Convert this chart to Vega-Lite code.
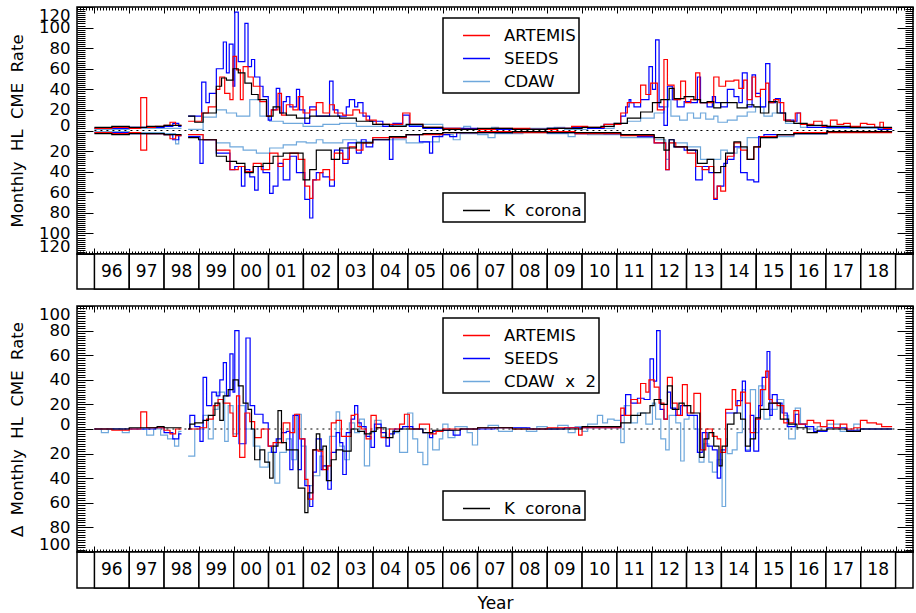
{
"$schema":"https://vega.github.io/schema/vega-lite/v6.json",
"padding":{"left":8,"top":5,"right":0,"bottom":0},
"config":{
 "font":"DejaVu Sans",
 "view":{"stroke":"black","strokeWidth":1.5},
 "axis":{"domain":false,"grid":false,"tickColor":"black","tickWidth":1,"labelColor":"black","titleColor":"black","labelFont":"DejaVu Sans","titleFont":"DejaVu Sans","titleFontWeight":"normal","labelFontSize":16.5,"titleFontSize":16.5,"labelOverlap":false},
 "legend":{"labelFont":"DejaVu Sans","labelFontSize":16.5,"labelColor":"black","symbolType":"stroke","symbolSize":729,"symbolStrokeWidth":1.5,"rowPadding":-6,"padding":3,"strokeColor":"black","strokeWidth":1.5,"fillColor":"white","symbolOffset":16,"labelOffset":13,"cornerRadius":0}
},
"datasets":{
"years":[{"label":"96"},{"label":"97"},{"label":"98"},{"label":"99"},{"label":"00"},{"label":"01"},{"label":"02"},{"label":"03"},{"label":"04"},{"label":"05"},{"label":"06"},{"label":"07"},{"label":"08"},{"label":"09"},{"label":"10"},{"label":"11"},{"label":"12"},{"label":"13"},{"label":"14"},{"label":"15"},{"label":"16"},{"label":"17"},{"label":"18"}],
"cme":[
{"p":"N","src":"CDAW","t":1996.0,"v":1,"g":1},{"p":"N","src":"CDAW","t":1997.0,"v":2,"g":1},{"p":"N","src":"CDAW","t":1998.0,"v":2,"g":1},{"p":"N","src":"CDAW","t":1998.5,"v":2,"g":1},
{"p":"N","src":"CDAW","t":1998.69,"v":1},{"p":"N","src":"CDAW","t":1999.12,"v":13},{"p":"N","src":"CDAW","t":1999.5,"v":20},{"p":"N","src":"CDAW","t":1999.79,"v":17},{"p":"N","src":"CDAW","t":2000.08,"v":14},{"p":"N","src":"CDAW","t":2000.46,"v":30},{"p":"N","src":"CDAW","t":2000.75,"v":14},{"p":"N","src":"CDAW","t":2001.03,"v":9},{"p":"N","src":"CDAW","t":2001.42,"v":7},{"p":"N","src":"CDAW","t":2001.99,"v":4},{"p":"N","src":"CDAW","t":2002.56,"v":6},{"p":"N","src":"CDAW","t":2003.04,"v":7},{"p":"N","src":"CDAW","t":2003.52,"v":4},{"p":"N","src":"CDAW","t":2004.47,"v":5},{"p":"N","src":"CDAW","t":2005.43,"v":6},{"p":"N","src":"CDAW","t":2006.0,"v":2},{"p":"N","src":"CDAW","t":2006.6,"v":4},{"p":"N","src":"CDAW","t":2006.8,"v":1},{"p":"N","src":"CDAW","t":2007.4,"v":3},{"p":"N","src":"CDAW","t":2007.6,"v":1},{"p":"N","src":"CDAW","t":2008.5,"v":2},{"p":"N","src":"CDAW","t":2009.2,"v":3},{"p":"N","src":"CDAW","t":2009.5,"v":1},{"p":"N","src":"CDAW","t":2010.16,"v":2},{"p":"N","src":"CDAW","t":2010.92,"v":7},{"p":"N","src":"CDAW","t":2011.3,"v":9},{"p":"N","src":"CDAW","t":2011.68,"v":12},{"p":"N","src":"CDAW","t":2012.07,"v":17},{"p":"N","src":"CDAW","t":2012.35,"v":23},{"p":"N","src":"CDAW","t":2012.47,"v":30},{"p":"N","src":"CDAW","t":2012.55,"v":14},{"p":"N","src":"CDAW","t":2012.8,"v":10},{"p":"N","src":"CDAW","t":2013.02,"v":17},{"p":"N","src":"CDAW","t":2013.2,"v":12},{"p":"N","src":"CDAW","t":2013.4,"v":17},{"p":"N","src":"CDAW","t":2013.55,"v":11},{"p":"N","src":"CDAW","t":2013.78,"v":14},{"p":"N","src":"CDAW","t":2013.9,"v":8},{"p":"N","src":"CDAW","t":2014.17,"v":10},{"p":"N","src":"CDAW","t":2014.45,"v":14},{"p":"N","src":"CDAW","t":2014.74,"v":18},{"p":"N","src":"CDAW","t":2014.98,"v":23},{"p":"N","src":"CDAW","t":2015.22,"v":14},{"p":"N","src":"CDAW","t":2015.46,"v":17},{"p":"N","src":"CDAW","t":2015.84,"v":7},{"p":"N","src":"CDAW","t":2016.27,"v":3},{"p":"N","src":"CDAW","t":2017.03,"v":2},{"p":"N","src":"CDAW","t":2018.9,"v":2},
{"p":"N","src":"SEEDS","t":1996.0,"v":2,"g":1},{"p":"N","src":"SEEDS","t":1996.5,"v":2,"g":1},{"p":"N","src":"SEEDS","t":1997.0,"v":3,"g":1},{"p":"N","src":"SEEDS","t":1997.5,"v":3,"g":1},{"p":"N","src":"SEEDS","t":1998.0,"v":4,"g":1},{"p":"N","src":"SEEDS","t":1998.25,"v":7,"g":1},{"p":"N","src":"SEEDS","t":1998.42,"v":4,"g":1},{"p":"N","src":"SEEDS","t":1998.5,"v":4,"g":1},
{"p":"N","src":"SEEDS","t":1998.69,"v":14},{"p":"N","src":"SEEDS","t":1999.08,"v":47},{"p":"N","src":"SEEDS","t":1999.2,"v":27},{"p":"N","src":"SEEDS","t":1999.3,"v":36},{"p":"N","src":"SEEDS","t":1999.5,"v":60},{"p":"N","src":"SEEDS","t":1999.7,"v":86},{"p":"N","src":"SEEDS","t":1999.79,"v":56},{"p":"N","src":"SEEDS","t":1999.87,"v":84},{"p":"N","src":"SEEDS","t":1999.98,"v":43},{"p":"N","src":"SEEDS","t":2000.03,"v":115},{"p":"N","src":"SEEDS","t":2000.13,"v":67},{"p":"N","src":"SEEDS","t":2000.32,"v":104},{"p":"N","src":"SEEDS","t":2000.41,"v":62},{"p":"N","src":"SEEDS","t":2000.51,"v":69},{"p":"N","src":"SEEDS","t":2000.6,"v":52},{"p":"N","src":"SEEDS","t":2000.75,"v":43},{"p":"N","src":"SEEDS","t":2000.84,"v":33},{"p":"N","src":"SEEDS","t":2000.99,"v":10},{"p":"N","src":"SEEDS","t":2001.08,"v":20},{"p":"N","src":"SEEDS","t":2001.22,"v":41},{"p":"N","src":"SEEDS","t":2001.32,"v":17},{"p":"N","src":"SEEDS","t":2001.42,"v":28},{"p":"N","src":"SEEDS","t":2001.51,"v":33},{"p":"N","src":"SEEDS","t":2001.61,"v":23},{"p":"N","src":"SEEDS","t":2001.8,"v":40},{"p":"N","src":"SEEDS","t":2001.89,"v":20},{"p":"N","src":"SEEDS","t":2002.04,"v":7},{"p":"N","src":"SEEDS","t":2002.18,"v":23},{"p":"N","src":"SEEDS","t":2002.37,"v":14},{"p":"N","src":"SEEDS","t":2002.75,"v":48},{"p":"N","src":"SEEDS","t":2002.85,"v":20},{"p":"N","src":"SEEDS","t":2002.99,"v":14},{"p":"N","src":"SEEDS","t":2003.23,"v":23},{"p":"N","src":"SEEDS","t":2003.32,"v":30},{"p":"N","src":"SEEDS","t":2003.47,"v":23},{"p":"N","src":"SEEDS","t":2003.56,"v":27},{"p":"N","src":"SEEDS","t":2003.71,"v":14},{"p":"N","src":"SEEDS","t":2003.9,"v":9},{"p":"N","src":"SEEDS","t":2004.28,"v":4},{"p":"N","src":"SEEDS","t":2004.57,"v":7},{"p":"N","src":"SEEDS","t":2004.85,"v":15},{"p":"N","src":"SEEDS","t":2005.04,"v":4},{"p":"N","src":"SEEDS","t":2005.43,"v":2},{"p":"N","src":"SEEDS","t":2006.0,"v":2},{"p":"N","src":"SEEDS","t":2007.0,"v":1},{"p":"N","src":"SEEDS","t":2009.0,"v":2},{"p":"N","src":"SEEDS","t":2009.7,"v":3},{"p":"N","src":"SEEDS","t":2010.16,"v":2},{"p":"N","src":"SEEDS","t":2010.63,"v":6},{"p":"N","src":"SEEDS","t":2011.11,"v":14},{"p":"N","src":"SEEDS","t":2011.25,"v":23},{"p":"N","src":"SEEDS","t":2011.35,"v":30},{"p":"N","src":"SEEDS","t":2011.4,"v":27},{"p":"N","src":"SEEDS","t":2011.49,"v":23},{"p":"N","src":"SEEDS","t":2011.68,"v":30},{"p":"N","src":"SEEDS","t":2011.92,"v":62},{"p":"N","src":"SEEDS","t":2012.02,"v":40},{"p":"N","src":"SEEDS","t":2012.11,"v":88},{"p":"N","src":"SEEDS","t":2012.21,"v":23},{"p":"N","src":"SEEDS","t":2012.35,"v":5},{"p":"N","src":"SEEDS","t":2012.45,"v":43},{"p":"N","src":"SEEDS","t":2012.59,"v":30},{"p":"N","src":"SEEDS","t":2012.73,"v":23},{"p":"N","src":"SEEDS","t":2012.93,"v":28},{"p":"N","src":"SEEDS","t":2013.12,"v":27},{"p":"N","src":"SEEDS","t":2013.31,"v":52},{"p":"N","src":"SEEDS","t":2013.4,"v":27},{"p":"N","src":"SEEDS","t":2013.59,"v":23},{"p":"N","src":"SEEDS","t":2013.74,"v":33},{"p":"N","src":"SEEDS","t":2013.83,"v":27},{"p":"N","src":"SEEDS","t":2013.98,"v":23},{"p":"N","src":"SEEDS","t":2014.17,"v":40},{"p":"N","src":"SEEDS","t":2014.36,"v":33},{"p":"N","src":"SEEDS","t":2014.5,"v":27},{"p":"N","src":"SEEDS","t":2014.6,"v":56},{"p":"N","src":"SEEDS","t":2014.74,"v":23},{"p":"N","src":"SEEDS","t":2014.88,"v":54},{"p":"N","src":"SEEDS","t":2014.98,"v":36},{"p":"N","src":"SEEDS","t":2015.12,"v":23},{"p":"N","src":"SEEDS","t":2015.27,"v":65},{"p":"N","src":"SEEDS","t":2015.39,"v":27},{"p":"N","src":"SEEDS","t":2015.55,"v":31},{"p":"N","src":"SEEDS","t":2015.69,"v":17},{"p":"N","src":"SEEDS","t":2015.84,"v":10},{"p":"N","src":"SEEDS","t":2016.08,"v":9},{"p":"N","src":"SEEDS","t":2016.17,"v":17},{"p":"N","src":"SEEDS","t":2016.27,"v":6},{"p":"N","src":"SEEDS","t":2016.46,"v":3},{"p":"N","src":"SEEDS","t":2018.5,"v":1},{"p":"N","src":"SEEDS","t":2018.9,"v":1},
{"p":"N","src":"ARTEMIS","t":1996.0,"v":2,"g":1},{"p":"N","src":"ARTEMIS","t":1996.5,"v":3,"g":1},{"p":"N","src":"ARTEMIS","t":1997.0,"v":2,"g":1},{"p":"N","src":"ARTEMIS","t":1997.33,"v":32,"g":1},{"p":"N","src":"ARTEMIS","t":1997.5,"v":3,"g":1},{"p":"N","src":"ARTEMIS","t":1997.75,"v":4,"g":1},{"p":"N","src":"ARTEMIS","t":1998.0,"v":5,"g":1},{"p":"N","src":"ARTEMIS","t":1998.17,"v":8,"g":1},{"p":"N","src":"ARTEMIS","t":1998.33,"v":5,"g":1},{"p":"N","src":"ARTEMIS","t":1998.5,"v":5,"g":1},
{"p":"N","src":"ARTEMIS","t":1998.69,"v":9},{"p":"N","src":"ARTEMIS","t":1999.08,"v":17},{"p":"N","src":"ARTEMIS","t":1999.27,"v":23},{"p":"N","src":"ARTEMIS","t":1999.5,"v":40},{"p":"N","src":"ARTEMIS","t":1999.6,"v":52},{"p":"N","src":"ARTEMIS","t":1999.74,"v":36},{"p":"N","src":"ARTEMIS","t":1999.89,"v":30},{"p":"N","src":"ARTEMIS","t":1999.98,"v":72},{"p":"N","src":"ARTEMIS","t":2000.08,"v":59},{"p":"N","src":"ARTEMIS","t":2000.19,"v":30},{"p":"N","src":"ARTEMIS","t":2000.27,"v":62},{"p":"N","src":"ARTEMIS","t":2000.41,"v":52},{"p":"N","src":"ARTEMIS","t":2000.56,"v":43},{"p":"N","src":"ARTEMIS","t":2000.75,"v":28},{"p":"N","src":"ARTEMIS","t":2000.94,"v":14},{"p":"N","src":"ARTEMIS","t":2001.08,"v":20},{"p":"N","src":"ARTEMIS","t":2001.27,"v":36},{"p":"N","src":"ARTEMIS","t":2001.37,"v":15},{"p":"N","src":"ARTEMIS","t":2001.51,"v":25},{"p":"N","src":"ARTEMIS","t":2001.7,"v":20},{"p":"N","src":"ARTEMIS","t":2001.85,"v":33},{"p":"N","src":"ARTEMIS","t":2001.99,"v":17},{"p":"N","src":"ARTEMIS","t":2002.18,"v":20},{"p":"N","src":"ARTEMIS","t":2002.37,"v":27},{"p":"N","src":"ARTEMIS","t":2002.56,"v":17},{"p":"N","src":"ARTEMIS","t":2002.75,"v":25},{"p":"N","src":"ARTEMIS","t":2002.89,"v":17},{"p":"N","src":"ARTEMIS","t":2003.13,"v":15},{"p":"N","src":"ARTEMIS","t":2003.42,"v":20},{"p":"N","src":"ARTEMIS","t":2003.61,"v":17},{"p":"N","src":"ARTEMIS","t":2003.8,"v":10},{"p":"N","src":"ARTEMIS","t":2004.09,"v":6},{"p":"N","src":"ARTEMIS","t":2004.85,"v":17},{"p":"N","src":"ARTEMIS","t":2005.06,"v":6},{"p":"N","src":"ARTEMIS","t":2005.43,"v":3},{"p":"N","src":"ARTEMIS","t":2006.0,"v":2},{"p":"N","src":"ARTEMIS","t":2006.5,"v":1},{"p":"N","src":"ARTEMIS","t":2007.5,"v":2},{"p":"N","src":"ARTEMIS","t":2008.5,"v":1},{"p":"N","src":"ARTEMIS","t":2009.3,"v":2},{"p":"N","src":"ARTEMIS","t":2009.7,"v":4},{"p":"N","src":"ARTEMIS","t":2010.16,"v":3},{"p":"N","src":"ARTEMIS","t":2010.63,"v":6},{"p":"N","src":"ARTEMIS","t":2011.11,"v":17},{"p":"N","src":"ARTEMIS","t":2011.3,"v":27},{"p":"N","src":"ARTEMIS","t":2011.68,"v":44},{"p":"N","src":"ARTEMIS","t":2011.83,"v":35},{"p":"N","src":"ARTEMIS","t":2011.97,"v":46},{"p":"N","src":"ARTEMIS","t":2012.16,"v":20},{"p":"N","src":"ARTEMIS","t":2012.35,"v":69},{"p":"N","src":"ARTEMIS","t":2012.45,"v":44},{"p":"N","src":"ARTEMIS","t":2012.64,"v":30},{"p":"N","src":"ARTEMIS","t":2012.83,"v":48},{"p":"N","src":"ARTEMIS","t":2012.97,"v":27},{"p":"N","src":"ARTEMIS","t":2013.12,"v":30},{"p":"N","src":"ARTEMIS","t":2013.26,"v":56},{"p":"N","src":"ARTEMIS","t":2013.38,"v":27},{"p":"N","src":"ARTEMIS","t":2013.78,"v":52},{"p":"N","src":"ARTEMIS","t":2013.93,"v":43},{"p":"N","src":"ARTEMIS","t":2014.12,"v":48},{"p":"N","src":"ARTEMIS","t":2014.36,"v":49},{"p":"N","src":"ARTEMIS","t":2014.5,"v":41},{"p":"N","src":"ARTEMIS","t":2014.64,"v":49},{"p":"N","src":"ARTEMIS","t":2014.74,"v":30},{"p":"N","src":"ARTEMIS","t":2014.88,"v":52},{"p":"N","src":"ARTEMIS","t":2014.98,"v":33},{"p":"N","src":"ARTEMIS","t":2015.12,"v":40},{"p":"N","src":"ARTEMIS","t":2015.27,"v":46},{"p":"N","src":"ARTEMIS","t":2015.36,"v":27},{"p":"N","src":"ARTEMIS","t":2015.5,"v":30},{"p":"N","src":"ARTEMIS","t":2015.65,"v":27},{"p":"N","src":"ARTEMIS","t":2015.79,"v":10},{"p":"N","src":"ARTEMIS","t":2015.98,"v":9},{"p":"N","src":"ARTEMIS","t":2016.12,"v":17},{"p":"N","src":"ARTEMIS","t":2016.27,"v":6},{"p":"N","src":"ARTEMIS","t":2016.65,"v":9},{"p":"N","src":"ARTEMIS","t":2016.89,"v":4},{"p":"N","src":"ARTEMIS","t":2017.13,"v":10},{"p":"N","src":"ARTEMIS","t":2017.32,"v":6},{"p":"N","src":"ARTEMIS","t":2017.51,"v":7},{"p":"N","src":"ARTEMIS","t":2017.7,"v":4},{"p":"N","src":"ARTEMIS","t":2017.99,"v":7},{"p":"N","src":"ARTEMIS","t":2018.18,"v":6},{"p":"N","src":"ARTEMIS","t":2018.4,"v":3},{"p":"N","src":"ARTEMIS","t":2018.55,"v":8},{"p":"N","src":"ARTEMIS","t":2018.65,"v":2},{"p":"N","src":"ARTEMIS","t":2018.9,"v":2},
{"p":"N","src":"K corona","t":1996.0,"v":3,"g":1},{"p":"N","src":"K corona","t":1996.5,"v":4,"g":1},{"p":"N","src":"K corona","t":1997.0,"v":3,"g":1},{"p":"N","src":"K corona","t":1997.5,"v":4,"g":1},{"p":"N","src":"K corona","t":1998.0,"v":5,"g":1},{"p":"N","src":"K corona","t":1998.5,"v":5,"g":1},
{"p":"N","src":"K corona","t":1998.69,"v":14},{"p":"N","src":"K corona","t":1998.88,"v":8},{"p":"N","src":"K corona","t":1999.12,"v":17},{"p":"N","src":"K corona","t":1999.5,"v":43},{"p":"N","src":"K corona","t":1999.65,"v":51},{"p":"N","src":"K corona","t":1999.79,"v":49},{"p":"N","src":"K corona","t":1999.98,"v":60},{"p":"N","src":"K corona","t":2000.13,"v":56},{"p":"N","src":"K corona","t":2000.32,"v":46},{"p":"N","src":"K corona","t":2000.51,"v":35},{"p":"N","src":"K corona","t":2000.7,"v":30},{"p":"N","src":"K corona","t":2000.94,"v":14},{"p":"N","src":"K corona","t":2001.13,"v":23},{"p":"N","src":"K corona","t":2001.32,"v":17},{"p":"N","src":"K corona","t":2001.51,"v":15},{"p":"N","src":"K corona","t":2001.8,"v":12},{"p":"N","src":"K corona","t":2002.18,"v":14},{"p":"N","src":"K corona","t":2003.04,"v":12},{"p":"N","src":"K corona","t":2003.52,"v":9},{"p":"N","src":"K corona","t":2003.99,"v":6},{"p":"N","src":"K corona","t":2004.47,"v":4},{"p":"N","src":"K corona","t":2004.95,"v":6},{"p":"N","src":"K corona","t":2005.43,"v":3},{"p":"N","src":"K corona","t":2006.0,"v":1},{"p":"N","src":"K corona","t":2007.0,"v":2},{"p":"N","src":"K corona","t":2008.0,"v":1},{"p":"N","src":"K corona","t":2009.0,"v":2},{"p":"N","src":"K corona","t":2010.0,"v":3},{"p":"N","src":"K corona","t":2010.54,"v":4},{"p":"N","src":"K corona","t":2010.92,"v":7},{"p":"N","src":"K corona","t":2011.3,"v":12},{"p":"N","src":"K corona","t":2011.68,"v":18},{"p":"N","src":"K corona","t":2012.02,"v":27},{"p":"N","src":"K corona","t":2012.26,"v":30},{"p":"N","src":"K corona","t":2012.5,"v":41},{"p":"N","src":"K corona","t":2012.64,"v":31},{"p":"N","src":"K corona","t":2012.93,"v":33},{"p":"N","src":"K corona","t":2013.21,"v":30},{"p":"N","src":"K corona","t":2013.4,"v":27},{"p":"N","src":"K corona","t":2013.59,"v":28},{"p":"N","src":"K corona","t":2013.78,"v":22},{"p":"N","src":"K corona","t":2013.98,"v":27},{"p":"N","src":"K corona","t":2014.45,"v":22},{"p":"N","src":"K corona","t":2014.74,"v":25},{"p":"N","src":"K corona","t":2014.93,"v":23},{"p":"N","src":"K corona","t":2015.12,"v":17},{"p":"N","src":"K corona","t":2015.36,"v":28},{"p":"N","src":"K corona","t":2015.6,"v":17},{"p":"N","src":"K corona","t":2015.84,"v":9},{"p":"N","src":"K corona","t":2016.08,"v":7},{"p":"N","src":"K corona","t":2016.46,"v":5},{"p":"N","src":"K corona","t":2017.03,"v":4},{"p":"N","src":"K corona","t":2017.7,"v":3},{"p":"N","src":"K corona","t":2018.9,"v":3},
{"p":"S","src":"CDAW","t":1996.0,"v":-1,"g":1},{"p":"S","src":"CDAW","t":1997.0,"v":-2,"g":1},{"p":"S","src":"CDAW","t":1998.0,"v":-3,"g":1},{"p":"S","src":"CDAW","t":1998.33,"v":-13,"g":1},{"p":"S","src":"CDAW","t":1998.42,"v":-4,"g":1},{"p":"S","src":"CDAW","t":1998.5,"v":-4,"g":1},
{"p":"S","src":"CDAW","t":1998.69,"v":-4},{"p":"S","src":"CDAW","t":1999.12,"v":-9},{"p":"S","src":"CDAW","t":1999.5,"v":-12},{"p":"S","src":"CDAW","t":1999.89,"v":-16},{"p":"S","src":"CDAW","t":2000.27,"v":-19},{"p":"S","src":"CDAW","t":2000.65,"v":-22},{"p":"S","src":"CDAW","t":2001.03,"v":-17},{"p":"S","src":"CDAW","t":2001.42,"v":-14},{"p":"S","src":"CDAW","t":2001.8,"v":-11},{"p":"S","src":"CDAW","t":2002.08,"v":-12},{"p":"S","src":"CDAW","t":2002.37,"v":-9},{"p":"S","src":"CDAW","t":2002.56,"v":-12},{"p":"S","src":"CDAW","t":2003.13,"v":-9},{"p":"S","src":"CDAW","t":2003.52,"v":-11},{"p":"S","src":"CDAW","t":2003.99,"v":-7},{"p":"S","src":"CDAW","t":2004.47,"v":-9},{"p":"S","src":"CDAW","t":2004.95,"v":-12},{"p":"S","src":"CDAW","t":2005.43,"v":-11},{"p":"S","src":"CDAW","t":2005.9,"v":-4},{"p":"S","src":"CDAW","t":2006.3,"v":-9},{"p":"S","src":"CDAW","t":2006.5,"v":-3},{"p":"S","src":"CDAW","t":2007.0,"v":-4},{"p":"S","src":"CDAW","t":2007.3,"v":-7},{"p":"S","src":"CDAW","t":2007.5,"v":-3},{"p":"S","src":"CDAW","t":2008.3,"v":-2},{"p":"S","src":"CDAW","t":2009.0,"v":-3},{"p":"S","src":"CDAW","t":2009.6,"v":-6},{"p":"S","src":"CDAW","t":2009.8,"v":-3},{"p":"S","src":"CDAW","t":2010.16,"v":-4},{"p":"S","src":"CDAW","t":2011.11,"v":-7},{"p":"S","src":"CDAW","t":2012.07,"v":-9},{"p":"S","src":"CDAW","t":2012.4,"v":-28},{"p":"S","src":"CDAW","t":2012.5,"v":-12},{"p":"S","src":"CDAW","t":2013.02,"v":-16},{"p":"S","src":"CDAW","t":2013.4,"v":-28},{"p":"S","src":"CDAW","t":2013.98,"v":-19},{"p":"S","src":"CDAW","t":2014.17,"v":-22},{"p":"S","src":"CDAW","t":2014.45,"v":-17},{"p":"S","src":"CDAW","t":2014.74,"v":-7},{"p":"S","src":"CDAW","t":2015.6,"v":-6},{"p":"S","src":"CDAW","t":2016.08,"v":-3},{"p":"S","src":"CDAW","t":2017.03,"v":-1},{"p":"S","src":"CDAW","t":2018.9,"v":-1},
{"p":"S","src":"SEEDS","t":1996.0,"v":-2,"g":1},{"p":"S","src":"SEEDS","t":1997.0,"v":-3,"g":1},{"p":"S","src":"SEEDS","t":1998.0,"v":-4,"g":1},{"p":"S","src":"SEEDS","t":1998.25,"v":-9,"g":1},{"p":"S","src":"SEEDS","t":1998.42,"v":-5,"g":1},{"p":"S","src":"SEEDS","t":1998.5,"v":-5,"g":1},
{"p":"S","src":"SEEDS","t":1998.69,"v":-6},{"p":"S","src":"SEEDS","t":1999.03,"v":-32},{"p":"S","src":"SEEDS","t":1999.12,"v":-9},{"p":"S","src":"SEEDS","t":1999.5,"v":-22},{"p":"S","src":"SEEDS","t":1999.89,"v":-38},{"p":"S","src":"SEEDS","t":2000.03,"v":-35},{"p":"S","src":"SEEDS","t":2000.22,"v":-54},{"p":"S","src":"SEEDS","t":2000.32,"v":-38},{"p":"S","src":"SEEDS","t":2000.46,"v":-45},{"p":"S","src":"SEEDS","t":2000.6,"v":-58},{"p":"S","src":"SEEDS","t":2000.7,"v":-35},{"p":"S","src":"SEEDS","t":2000.84,"v":-41},{"p":"S","src":"SEEDS","t":2001.03,"v":-61},{"p":"S","src":"SEEDS","t":2001.13,"v":-54},{"p":"S","src":"SEEDS","t":2001.27,"v":-32},{"p":"S","src":"SEEDS","t":2001.42,"v":-48},{"p":"S","src":"SEEDS","t":2001.61,"v":-25},{"p":"S","src":"SEEDS","t":2001.8,"v":-41},{"p":"S","src":"SEEDS","t":2002.04,"v":-67},{"p":"S","src":"SEEDS","t":2002.18,"v":-85},{"p":"S","src":"SEEDS","t":2002.27,"v":-48},{"p":"S","src":"SEEDS","t":2002.37,"v":-41},{"p":"S","src":"SEEDS","t":2002.56,"v":-45},{"p":"S","src":"SEEDS","t":2002.75,"v":-54},{"p":"S","src":"SEEDS","t":2002.89,"v":-19},{"p":"S","src":"SEEDS","t":2003.13,"v":-32},{"p":"S","src":"SEEDS","t":2003.28,"v":-12},{"p":"S","src":"SEEDS","t":2003.52,"v":-22},{"p":"S","src":"SEEDS","t":2003.66,"v":-9},{"p":"S","src":"SEEDS","t":2003.8,"v":-16},{"p":"S","src":"SEEDS","t":2003.99,"v":-9},{"p":"S","src":"SEEDS","t":2004.47,"v":-28},{"p":"S","src":"SEEDS","t":2004.57,"v":-7},{"p":"S","src":"SEEDS","t":2004.95,"v":-4},{"p":"S","src":"SEEDS","t":2005.33,"v":-11},{"p":"S","src":"SEEDS","t":2005.62,"v":-22},{"p":"S","src":"SEEDS","t":2005.71,"v":-6},{"p":"S","src":"SEEDS","t":2006.0,"v":-4},{"p":"S","src":"SEEDS","t":2006.2,"v":-6},{"p":"S","src":"SEEDS","t":2006.4,"v":-2},{"p":"S","src":"SEEDS","t":2008.0,"v":-1},{"p":"S","src":"SEEDS","t":2009.0,"v":-2},{"p":"S","src":"SEEDS","t":2009.8,"v":-3},{"p":"S","src":"SEEDS","t":2010.16,"v":-2},{"p":"S","src":"SEEDS","t":2010.63,"v":-3},{"p":"S","src":"SEEDS","t":2011.11,"v":-4},{"p":"S","src":"SEEDS","t":2011.59,"v":-6},{"p":"S","src":"SEEDS","t":2012.07,"v":-12},{"p":"S","src":"SEEDS","t":2012.4,"v":-38},{"p":"S","src":"SEEDS","t":2012.5,"v":-9},{"p":"S","src":"SEEDS","t":2012.64,"v":-16},{"p":"S","src":"SEEDS","t":2012.93,"v":-19},{"p":"S","src":"SEEDS","t":2013.26,"v":-48},{"p":"S","src":"SEEDS","t":2013.45,"v":-35},{"p":"S","src":"SEEDS","t":2013.64,"v":-41},{"p":"S","src":"SEEDS","t":2013.78,"v":-67},{"p":"S","src":"SEEDS","t":2013.88,"v":-54},{"p":"S","src":"SEEDS","t":2014.07,"v":-32},{"p":"S","src":"SEEDS","t":2014.17,"v":-28},{"p":"S","src":"SEEDS","t":2014.36,"v":-16},{"p":"S","src":"SEEDS","t":2014.55,"v":-41},{"p":"S","src":"SEEDS","t":2014.74,"v":-48},{"p":"S","src":"SEEDS","t":2014.93,"v":-50},{"p":"S","src":"SEEDS","t":2015.07,"v":-6},{"p":"S","src":"SEEDS","t":2015.22,"v":-4},{"p":"S","src":"SEEDS","t":2016.08,"v":-3},{"p":"S","src":"SEEDS","t":2017.03,"v":-1},{"p":"S","src":"SEEDS","t":2018.9,"v":-1},
{"p":"S","src":"ARTEMIS","t":1996.0,"v":-2,"g":1},{"p":"S","src":"ARTEMIS","t":1996.5,"v":-3,"g":1},{"p":"S","src":"ARTEMIS","t":1997.0,"v":-2,"g":1},{"p":"S","src":"ARTEMIS","t":1997.33,"v":-19,"g":1},{"p":"S","src":"ARTEMIS","t":1997.5,"v":-3,"g":1},{"p":"S","src":"ARTEMIS","t":1998.0,"v":-4,"g":1},{"p":"S","src":"ARTEMIS","t":1998.17,"v":-8,"g":1},{"p":"S","src":"ARTEMIS","t":1998.33,"v":-5,"g":1},{"p":"S","src":"ARTEMIS","t":1998.5,"v":-5,"g":1},
{"p":"S","src":"ARTEMIS","t":1998.69,"v":-4},{"p":"S","src":"ARTEMIS","t":1999.12,"v":-9},{"p":"S","src":"ARTEMIS","t":1999.5,"v":-19},{"p":"S","src":"ARTEMIS","t":1999.89,"v":-38},{"p":"S","src":"ARTEMIS","t":2000.13,"v":-35},{"p":"S","src":"ARTEMIS","t":2000.32,"v":-40},{"p":"S","src":"ARTEMIS","t":2000.56,"v":-32},{"p":"S","src":"ARTEMIS","t":2000.79,"v":-38},{"p":"S","src":"ARTEMIS","t":2001.03,"v":-22},{"p":"S","src":"ARTEMIS","t":2001.27,"v":-35},{"p":"S","src":"ARTEMIS","t":2001.42,"v":-28},{"p":"S","src":"ARTEMIS","t":2001.61,"v":-22},{"p":"S","src":"ARTEMIS","t":2001.85,"v":-28},{"p":"S","src":"ARTEMIS","t":2002.04,"v":-54},{"p":"S","src":"ARTEMIS","t":2002.18,"v":-66},{"p":"S","src":"ARTEMIS","t":2002.27,"v":-48},{"p":"S","src":"ARTEMIS","t":2002.47,"v":-41},{"p":"S","src":"ARTEMIS","t":2002.56,"v":-38},{"p":"S","src":"ARTEMIS","t":2002.75,"v":-48},{"p":"S","src":"ARTEMIS","t":2002.89,"v":-22},{"p":"S","src":"ARTEMIS","t":2003.13,"v":-28},{"p":"S","src":"ARTEMIS","t":2003.32,"v":-16},{"p":"S","src":"ARTEMIS","t":2003.52,"v":-19},{"p":"S","src":"ARTEMIS","t":2003.71,"v":-12},{"p":"S","src":"ARTEMIS","t":2003.99,"v":-7},{"p":"S","src":"ARTEMIS","t":2004.95,"v":-4},{"p":"S","src":"ARTEMIS","t":2006.0,"v":-2},{"p":"S","src":"ARTEMIS","t":2007.0,"v":-1},{"p":"S","src":"ARTEMIS","t":2008.0,"v":-2},{"p":"S","src":"ARTEMIS","t":2009.0,"v":-1},{"p":"S","src":"ARTEMIS","t":2009.8,"v":-3},{"p":"S","src":"ARTEMIS","t":2011.11,"v":-5},{"p":"S","src":"ARTEMIS","t":2012.07,"v":-12},{"p":"S","src":"ARTEMIS","t":2012.4,"v":-38},{"p":"S","src":"ARTEMIS","t":2012.5,"v":-12},{"p":"S","src":"ARTEMIS","t":2012.69,"v":-16},{"p":"S","src":"ARTEMIS","t":2013.02,"v":-22},{"p":"S","src":"ARTEMIS","t":2013.26,"v":-35},{"p":"S","src":"ARTEMIS","t":2013.45,"v":-38},{"p":"S","src":"ARTEMIS","t":2013.64,"v":-35},{"p":"S","src":"ARTEMIS","t":2013.78,"v":-66},{"p":"S","src":"ARTEMIS","t":2013.88,"v":-54},{"p":"S","src":"ARTEMIS","t":2013.98,"v":-59},{"p":"S","src":"ARTEMIS","t":2014.12,"v":-28},{"p":"S","src":"ARTEMIS","t":2014.17,"v":-25},{"p":"S","src":"ARTEMIS","t":2014.36,"v":-12},{"p":"S","src":"ARTEMIS","t":2014.55,"v":-19},{"p":"S","src":"ARTEMIS","t":2014.74,"v":-28},{"p":"S","src":"ARTEMIS","t":2014.93,"v":-16},{"p":"S","src":"ARTEMIS","t":2015.12,"v":-6},{"p":"S","src":"ARTEMIS","t":2015.6,"v":-4},{"p":"S","src":"ARTEMIS","t":2016.08,"v":-2},{"p":"S","src":"ARTEMIS","t":2018.9,"v":-2},
{"p":"S","src":"K corona","t":1996.0,"v":-3,"g":1},{"p":"S","src":"K corona","t":1996.5,"v":-4,"g":1},{"p":"S","src":"K corona","t":1997.0,"v":-3,"g":1},{"p":"S","src":"K corona","t":1998.0,"v":-4,"g":1},{"p":"S","src":"K corona","t":1998.5,"v":-4,"g":1},
{"p":"S","src":"K corona","t":1998.69,"v":-7},{"p":"S","src":"K corona","t":1998.99,"v":-9},{"p":"S","src":"K corona","t":1999.5,"v":-25},{"p":"S","src":"K corona","t":1999.79,"v":-30},{"p":"S","src":"K corona","t":2000.08,"v":-32},{"p":"S","src":"K corona","t":2000.32,"v":-41},{"p":"S","src":"K corona","t":2000.56,"v":-35},{"p":"S","src":"K corona","t":2000.84,"v":-32},{"p":"S","src":"K corona","t":2001.13,"v":-25},{"p":"S","src":"K corona","t":2001.42,"v":-22},{"p":"S","src":"K corona","t":2001.99,"v":-48},{"p":"S","src":"K corona","t":2002.18,"v":-38},{"p":"S","src":"K corona","t":2002.37,"v":-19},{"p":"S","src":"K corona","t":2002.8,"v":-28},{"p":"S","src":"K corona","t":2003.04,"v":-17},{"p":"S","src":"K corona","t":2003.52,"v":-12},{"p":"S","src":"K corona","t":2003.99,"v":-9},{"p":"S","src":"K corona","t":2004.47,"v":-6},{"p":"S","src":"K corona","t":2004.95,"v":-4},{"p":"S","src":"K corona","t":2005.43,"v":-3},{"p":"S","src":"K corona","t":2006.0,"v":-2},{"p":"S","src":"K corona","t":2008.0,"v":-1},{"p":"S","src":"K corona","t":2009.0,"v":-2},{"p":"S","src":"K corona","t":2011.11,"v":-4},{"p":"S","src":"K corona","t":2012.07,"v":-7},{"p":"S","src":"K corona","t":2012.35,"v":-19},{"p":"S","src":"K corona","t":2012.5,"v":-9},{"p":"S","src":"K corona","t":2012.64,"v":-16},{"p":"S","src":"K corona","t":2013.02,"v":-19},{"p":"S","src":"K corona","t":2013.31,"v":-32},{"p":"S","src":"K corona","t":2013.59,"v":-28},{"p":"S","src":"K corona","t":2013.78,"v":-41},{"p":"S","src":"K corona","t":2013.98,"v":-35},{"p":"S","src":"K corona","t":2014.12,"v":-22},{"p":"S","src":"K corona","t":2014.36,"v":-11},{"p":"S","src":"K corona","t":2014.55,"v":-16},{"p":"S","src":"K corona","t":2014.74,"v":-28},{"p":"S","src":"K corona","t":2014.93,"v":-16},{"p":"S","src":"K corona","t":2015.12,"v":-7},{"p":"S","src":"K corona","t":2015.6,"v":-4},{"p":"S","src":"K corona","t":2016.08,"v":-3},{"p":"S","src":"K corona","t":2017.03,"v":-1},{"p":"S","src":"K corona","t":2018.9,"v":-1},
{"p":"D","src":"CDAW","t":1996.0,"v":0,"g":1},{"p":"D","src":"CDAW","t":1996.2,"v":-3,"g":1},{"p":"D","src":"CDAW","t":1996.4,"v":0,"g":1},{"p":"D","src":"CDAW","t":1996.8,"v":-3,"g":1},{"p":"D","src":"CDAW","t":1997.0,"v":0,"g":1},{"p":"D","src":"CDAW","t":1997.5,"v":-5,"g":1},{"p":"D","src":"CDAW","t":1997.7,"v":0,"g":1},{"p":"D","src":"CDAW","t":1997.9,"v":-5,"g":1},{"p":"D","src":"CDAW","t":1998.1,"v":-8,"g":1},{"p":"D","src":"CDAW","t":1998.3,"v":-14,"g":1},{"p":"D","src":"CDAW","t":1998.42,"v":-2,"g":1},{"p":"D","src":"CDAW","t":1998.5,"v":-2,"g":1},
{"p":"D","src":"CDAW","t":1998.69,"v":-22},{"p":"D","src":"CDAW","t":1998.88,"v":0},{"p":"D","src":"CDAW","t":1999.12,"v":11},{"p":"D","src":"CDAW","t":1999.27,"v":-8},{"p":"D","src":"CDAW","t":1999.41,"v":16},{"p":"D","src":"CDAW","t":1999.55,"v":30},{"p":"D","src":"CDAW","t":1999.74,"v":-10},{"p":"D","src":"CDAW","t":1999.84,"v":19},{"p":"D","src":"CDAW","t":1999.98,"v":-4},{"p":"D","src":"CDAW","t":2000.13,"v":19},{"p":"D","src":"CDAW","t":2000.32,"v":0},{"p":"D","src":"CDAW","t":2000.56,"v":-14},{"p":"D","src":"CDAW","t":2000.75,"v":-31},{"p":"D","src":"CDAW","t":2000.99,"v":-19},{"p":"D","src":"CDAW","t":2001.18,"v":-44},{"p":"D","src":"CDAW","t":2001.32,"v":-19},{"p":"D","src":"CDAW","t":2001.51,"v":-8},{"p":"D","src":"CDAW","t":2001.66,"v":-25},{"p":"D","src":"CDAW","t":2001.8,"v":12},{"p":"D","src":"CDAW","t":2001.94,"v":-14},{"p":"D","src":"CDAW","t":2002.08,"v":-46},{"p":"D","src":"CDAW","t":2002.27,"v":-38},{"p":"D","src":"CDAW","t":2002.47,"v":-22},{"p":"D","src":"CDAW","t":2002.56,"v":-30},{"p":"D","src":"CDAW","t":2002.75,"v":-6},{"p":"D","src":"CDAW","t":2002.94,"v":14},{"p":"D","src":"CDAW","t":2003.04,"v":-14},{"p":"D","src":"CDAW","t":2003.18,"v":-25},{"p":"D","src":"CDAW","t":2003.32,"v":5},{"p":"D","src":"CDAW","t":2003.47,"v":-3},{"p":"D","src":"CDAW","t":2003.61,"v":8},{"p":"D","src":"CDAW","t":2003.75,"v":-30},{"p":"D","src":"CDAW","t":2003.9,"v":-3},{"p":"D","src":"CDAW","t":2004.04,"v":7},{"p":"D","src":"CDAW","t":2004.23,"v":-6},{"p":"D","src":"CDAW","t":2004.37,"v":0},{"p":"D","src":"CDAW","t":2004.57,"v":-3},{"p":"D","src":"CDAW","t":2004.76,"v":-19},{"p":"D","src":"CDAW","t":2004.99,"v":13},{"p":"D","src":"CDAW","t":2005.14,"v":-8},{"p":"D","src":"CDAW","t":2005.28,"v":-19},{"p":"D","src":"CDAW","t":2005.43,"v":-29},{"p":"D","src":"CDAW","t":2005.57,"v":-3},{"p":"D","src":"CDAW","t":2005.71,"v":-17},{"p":"D","src":"CDAW","t":2005.9,"v":-8},{"p":"D","src":"CDAW","t":2006.0,"v":4},{"p":"D","src":"CDAW","t":2006.15,"v":-7},{"p":"D","src":"CDAW","t":2006.35,"v":2},{"p":"D","src":"CDAW","t":2006.7,"v":-3},{"p":"D","src":"CDAW","t":2006.85,"v":-13},{"p":"D","src":"CDAW","t":2007.0,"v":1},{"p":"D","src":"CDAW","t":2007.3,"v":3},{"p":"D","src":"CDAW","t":2007.6,"v":-2},{"p":"D","src":"CDAW","t":2008.0,"v":1},{"p":"D","src":"CDAW","t":2008.4,"v":-2},{"p":"D","src":"CDAW","t":2008.7,"v":2},{"p":"D","src":"CDAW","t":2009.0,"v":0},{"p":"D","src":"CDAW","t":2009.3,"v":3},{"p":"D","src":"CDAW","t":2009.6,"v":-3},{"p":"D","src":"CDAW","t":2009.8,"v":2},{"p":"D","src":"CDAW","t":2010.0,"v":-2},{"p":"D","src":"CDAW","t":2010.16,"v":4},{"p":"D","src":"CDAW","t":2010.44,"v":11},{"p":"D","src":"CDAW","t":2010.59,"v":5},{"p":"D","src":"CDAW","t":2010.73,"v":8},{"p":"D","src":"CDAW","t":2010.92,"v":7},{"p":"D","src":"CDAW","t":2011.11,"v":-11},{"p":"D","src":"CDAW","t":2011.21,"v":19},{"p":"D","src":"CDAW","t":2011.4,"v":5},{"p":"D","src":"CDAW","t":2011.59,"v":13},{"p":"D","src":"CDAW","t":2011.83,"v":4},{"p":"D","src":"CDAW","t":2012.02,"v":21},{"p":"D","src":"CDAW","t":2012.11,"v":8},{"p":"D","src":"CDAW","t":2012.26,"v":-8},{"p":"D","src":"CDAW","t":2012.4,"v":-17},{"p":"D","src":"CDAW","t":2012.5,"v":11},{"p":"D","src":"CDAW","t":2012.69,"v":5},{"p":"D","src":"CDAW","t":2012.83,"v":-26},{"p":"D","src":"CDAW","t":2012.93,"v":8},{"p":"D","src":"CDAW","t":2013.07,"v":11},{"p":"D","src":"CDAW","t":2013.21,"v":0},{"p":"D","src":"CDAW","t":2013.36,"v":-27},{"p":"D","src":"CDAW","t":2013.5,"v":-12},{"p":"D","src":"CDAW","t":2013.64,"v":-27},{"p":"D","src":"CDAW","t":2013.74,"v":-35},{"p":"D","src":"CDAW","t":2013.88,"v":-25},{"p":"D","src":"CDAW","t":2014.02,"v":-63},{"p":"D","src":"CDAW","t":2014.12,"v":-8},{"p":"D","src":"CDAW","t":2014.17,"v":-20},{"p":"D","src":"CDAW","t":2014.31,"v":-17},{"p":"D","src":"CDAW","t":2014.45,"v":-3},{"p":"D","src":"CDAW","t":2014.6,"v":32},{"p":"D","src":"CDAW","t":2014.69,"v":-17},{"p":"D","src":"CDAW","t":2014.83,"v":32},{"p":"D","src":"CDAW","t":2014.98,"v":-3},{"p":"D","src":"CDAW","t":2015.07,"v":35},{"p":"D","src":"CDAW","t":2015.22,"v":8},{"p":"D","src":"CDAW","t":2015.39,"v":16},{"p":"D","src":"CDAW","t":2015.6,"v":24},{"p":"D","src":"CDAW","t":2015.79,"v":11},{"p":"D","src":"CDAW","t":2015.93,"v":-8},{"p":"D","src":"CDAW","t":2016.12,"v":17},{"p":"D","src":"CDAW","t":2016.27,"v":4},{"p":"D","src":"CDAW","t":2016.46,"v":0},{"p":"D","src":"CDAW","t":2016.75,"v":2},{"p":"D","src":"CDAW","t":2017.03,"v":4},{"p":"D","src":"CDAW","t":2017.41,"v":-2},{"p":"D","src":"CDAW","t":2017.8,"v":4},{"p":"D","src":"CDAW","t":2017.99,"v":0},{"p":"D","src":"CDAW","t":2018.9,"v":0},
{"p":"D","src":"SEEDS","t":1996.0,"v":0,"g":1},{"p":"D","src":"SEEDS","t":1997.75,"v":1,"g":1},{"p":"D","src":"SEEDS","t":1998.0,"v":-3,"g":1},{"p":"D","src":"SEEDS","t":1998.25,"v":-8,"g":1},{"p":"D","src":"SEEDS","t":1998.42,"v":-4,"g":1},{"p":"D","src":"SEEDS","t":1998.5,"v":-4,"g":1},
{"p":"D","src":"SEEDS","t":1998.69,"v":0},{"p":"D","src":"SEEDS","t":1998.74,"v":11},{"p":"D","src":"SEEDS","t":1998.88,"v":2},{"p":"D","src":"SEEDS","t":1999.03,"v":-10},{"p":"D","src":"SEEDS","t":1999.12,"v":42},{"p":"D","src":"SEEDS","t":1999.22,"v":19},{"p":"D","src":"SEEDS","t":1999.37,"v":30},{"p":"D","src":"SEEDS","t":1999.5,"v":27},{"p":"D","src":"SEEDS","t":1999.6,"v":40},{"p":"D","src":"SEEDS","t":1999.7,"v":54},{"p":"D","src":"SEEDS","t":1999.79,"v":27},{"p":"D","src":"SEEDS","t":1999.89,"v":61},{"p":"D","src":"SEEDS","t":1999.98,"v":30},{"p":"D","src":"SEEDS","t":2000.03,"v":80},{"p":"D","src":"SEEDS","t":2000.15,"v":-12},{"p":"D","src":"SEEDS","t":2000.35,"v":74},{"p":"D","src":"SEEDS","t":2000.47,"v":19},{"p":"D","src":"SEEDS","t":2000.6,"v":12},{"p":"D","src":"SEEDS","t":2000.84,"v":5},{"p":"D","src":"SEEDS","t":2000.99,"v":-14},{"p":"D","src":"SEEDS","t":2001.08,"v":-19},{"p":"D","src":"SEEDS","t":2001.22,"v":-8},{"p":"D","src":"SEEDS","t":2001.37,"v":-3},{"p":"D","src":"SEEDS","t":2001.51,"v":-2},{"p":"D","src":"SEEDS","t":2001.61,"v":-33},{"p":"D","src":"SEEDS","t":2001.7,"v":11},{"p":"D","src":"SEEDS","t":2001.85,"v":-33},{"p":"D","src":"SEEDS","t":2001.94,"v":-8},{"p":"D","src":"SEEDS","t":2002.04,"v":-46},{"p":"D","src":"SEEDS","t":2002.18,"v":-63},{"p":"D","src":"SEEDS","t":2002.27,"v":-35},{"p":"D","src":"SEEDS","t":2002.37,"v":-8},{"p":"D","src":"SEEDS","t":2002.51,"v":-33},{"p":"D","src":"SEEDS","t":2002.56,"v":-30},{"p":"D","src":"SEEDS","t":2002.7,"v":-49},{"p":"D","src":"SEEDS","t":2002.8,"v":-19},{"p":"D","src":"SEEDS","t":2002.94,"v":-3},{"p":"D","src":"SEEDS","t":2003.04,"v":-11},{"p":"D","src":"SEEDS","t":2003.13,"v":-37},{"p":"D","src":"SEEDS","t":2003.23,"v":-3},{"p":"D","src":"SEEDS","t":2003.37,"v":8},{"p":"D","src":"SEEDS","t":2003.47,"v":19},{"p":"D","src":"SEEDS","t":2003.56,"v":5},{"p":"D","src":"SEEDS","t":2003.66,"v":2},{"p":"D","src":"SEEDS","t":2003.8,"v":-6},{"p":"D","src":"SEEDS","t":2003.94,"v":-15},{"p":"D","src":"SEEDS","t":2004.04,"v":4},{"p":"D","src":"SEEDS","t":2004.23,"v":-3},{"p":"D","src":"SEEDS","t":2004.37,"v":-14},{"p":"D","src":"SEEDS","t":2004.47,"v":-4},{"p":"D","src":"SEEDS","t":2004.61,"v":0},{"p":"D","src":"SEEDS","t":2004.85,"v":2},{"p":"D","src":"SEEDS","t":2005.14,"v":0},{"p":"D","src":"SEEDS","t":2005.43,"v":-3},{"p":"D","src":"SEEDS","t":2005.62,"v":-7},{"p":"D","src":"SEEDS","t":2005.71,"v":-2},{"p":"D","src":"SEEDS","t":2006.0,"v":-1},{"p":"D","src":"SEEDS","t":2006.3,"v":-5},{"p":"D","src":"SEEDS","t":2006.5,"v":0},{"p":"D","src":"SEEDS","t":2007.5,"v":1},{"p":"D","src":"SEEDS","t":2008.5,"v":0},{"p":"D","src":"SEEDS","t":2009.5,"v":1},{"p":"D","src":"SEEDS","t":2011.11,"v":11},{"p":"D","src":"SEEDS","t":2011.25,"v":28},{"p":"D","src":"SEEDS","t":2011.4,"v":21},{"p":"D","src":"SEEDS","t":2011.59,"v":25},{"p":"D","src":"SEEDS","t":2011.78,"v":24},{"p":"D","src":"SEEDS","t":2011.95,"v":57},{"p":"D","src":"SEEDS","t":2012.05,"v":39},{"p":"D","src":"SEEDS","t":2012.14,"v":80},{"p":"D","src":"SEEDS","t":2012.24,"v":16},{"p":"D","src":"SEEDS","t":2012.35,"v":8},{"p":"D","src":"SEEDS","t":2012.45,"v":30},{"p":"D","src":"SEEDS","t":2012.54,"v":17},{"p":"D","src":"SEEDS","t":2012.69,"v":11},{"p":"D","src":"SEEDS","t":2012.83,"v":19},{"p":"D","src":"SEEDS","t":2013.02,"v":11},{"p":"D","src":"SEEDS","t":2013.31,"v":-19},{"p":"D","src":"SEEDS","t":2013.45,"v":-3},{"p":"D","src":"SEEDS","t":2013.59,"v":-14},{"p":"D","src":"SEEDS","t":2013.74,"v":-17},{"p":"D","src":"SEEDS","t":2013.88,"v":-40},{"p":"D","src":"SEEDS","t":2013.98,"v":-17},{"p":"D","src":"SEEDS","t":2014.12,"v":13},{"p":"D","src":"SEEDS","t":2014.45,"v":23},{"p":"D","src":"SEEDS","t":2014.6,"v":39},{"p":"D","src":"SEEDS","t":2014.69,"v":-18},{"p":"D","src":"SEEDS","t":2014.83,"v":11},{"p":"D","src":"SEEDS","t":2014.93,"v":-18},{"p":"D","src":"SEEDS","t":2015.07,"v":19},{"p":"D","src":"SEEDS","t":2015.17,"v":42},{"p":"D","src":"SEEDS","t":2015.31,"v":63},{"p":"D","src":"SEEDS","t":2015.39,"v":11},{"p":"D","src":"SEEDS","t":2015.46,"v":28},{"p":"D","src":"SEEDS","t":2015.6,"v":21},{"p":"D","src":"SEEDS","t":2015.74,"v":13},{"p":"D","src":"SEEDS","t":2015.89,"v":2},{"p":"D","src":"SEEDS","t":2016.12,"v":12},{"p":"D","src":"SEEDS","t":2016.22,"v":4},{"p":"D","src":"SEEDS","t":2016.41,"v":2},{"p":"D","src":"SEEDS","t":2016.65,"v":-2},{"p":"D","src":"SEEDS","t":2017.03,"v":1},{"p":"D","src":"SEEDS","t":2017.6,"v":-1},{"p":"D","src":"SEEDS","t":2017.99,"v":0},{"p":"D","src":"SEEDS","t":2018.9,"v":0},
{"p":"D","src":"ARTEMIS","t":1996.0,"v":0,"g":1},{"p":"D","src":"ARTEMIS","t":1996.5,"v":-1,"g":1},{"p":"D","src":"ARTEMIS","t":1997.0,"v":0,"g":1},{"p":"D","src":"ARTEMIS","t":1997.33,"v":14,"g":1},{"p":"D","src":"ARTEMIS","t":1997.5,"v":1,"g":1},{"p":"D","src":"ARTEMIS","t":1998.0,"v":-1,"g":1},{"p":"D","src":"ARTEMIS","t":1998.17,"v":-4,"g":1},{"p":"D","src":"ARTEMIS","t":1998.33,"v":0,"g":1},{"p":"D","src":"ARTEMIS","t":1998.5,"v":0,"g":1},
{"p":"D","src":"ARTEMIS","t":1998.69,"v":0},{"p":"D","src":"ARTEMIS","t":1999.03,"v":1},{"p":"D","src":"ARTEMIS","t":1999.22,"v":8},{"p":"D","src":"ARTEMIS","t":1999.41,"v":19},{"p":"D","src":"ARTEMIS","t":1999.55,"v":24},{"p":"D","src":"ARTEMIS","t":1999.7,"v":21},{"p":"D","src":"ARTEMIS","t":1999.89,"v":13},{"p":"D","src":"ARTEMIS","t":1999.98,"v":-6},{"p":"D","src":"ARTEMIS","t":2000.08,"v":27},{"p":"D","src":"ARTEMIS","t":2000.17,"v":-23},{"p":"D","src":"ARTEMIS","t":2000.32,"v":13},{"p":"D","src":"ARTEMIS","t":2000.46,"v":6},{"p":"D","src":"ARTEMIS","t":2000.6,"v":-7},{"p":"D","src":"ARTEMIS","t":2000.79,"v":0},{"p":"D","src":"ARTEMIS","t":2000.99,"v":-14},{"p":"D","src":"ARTEMIS","t":2001.13,"v":-11},{"p":"D","src":"ARTEMIS","t":2001.42,"v":5},{"p":"D","src":"ARTEMIS","t":2001.61,"v":-3},{"p":"D","src":"ARTEMIS","t":2001.75,"v":12},{"p":"D","src":"ARTEMIS","t":2001.89,"v":-8},{"p":"D","src":"ARTEMIS","t":2002.04,"v":-41},{"p":"D","src":"ARTEMIS","t":2002.13,"v":-57},{"p":"D","src":"ARTEMIS","t":2002.27,"v":-17},{"p":"D","src":"ARTEMIS","t":2002.42,"v":-18},{"p":"D","src":"ARTEMIS","t":2002.56,"v":-33},{"p":"D","src":"ARTEMIS","t":2002.7,"v":-30},{"p":"D","src":"ARTEMIS","t":2002.8,"v":5},{"p":"D","src":"ARTEMIS","t":2002.94,"v":7},{"p":"D","src":"ARTEMIS","t":2003.09,"v":-6},{"p":"D","src":"ARTEMIS","t":2003.37,"v":11},{"p":"D","src":"ARTEMIS","t":2003.47,"v":12},{"p":"D","src":"ARTEMIS","t":2003.56,"v":2},{"p":"D","src":"ARTEMIS","t":2003.66,"v":0},{"p":"D","src":"ARTEMIS","t":2003.8,"v":-8},{"p":"D","src":"ARTEMIS","t":2003.94,"v":11},{"p":"D","src":"ARTEMIS","t":2004.09,"v":1},{"p":"D","src":"ARTEMIS","t":2004.23,"v":-7},{"p":"D","src":"ARTEMIS","t":2004.47,"v":0},{"p":"D","src":"ARTEMIS","t":2004.76,"v":4},{"p":"D","src":"ARTEMIS","t":2004.9,"v":12},{"p":"D","src":"ARTEMIS","t":2005.04,"v":0},{"p":"D","src":"ARTEMIS","t":2005.33,"v":4},{"p":"D","src":"ARTEMIS","t":2005.62,"v":-4},{"p":"D","src":"ARTEMIS","t":2005.81,"v":-2},{"p":"D","src":"ARTEMIS","t":2006.0,"v":0},{"p":"D","src":"ARTEMIS","t":2007.0,"v":1},{"p":"D","src":"ARTEMIS","t":2008.0,"v":0},{"p":"D","src":"ARTEMIS","t":2009.0,"v":1},{"p":"D","src":"ARTEMIS","t":2009.9,"v":-5},{"p":"D","src":"ARTEMIS","t":2010.0,"v":1},{"p":"D","src":"ARTEMIS","t":2011.11,"v":17},{"p":"D","src":"ARTEMIS","t":2011.21,"v":11},{"p":"D","src":"ARTEMIS","t":2011.4,"v":24},{"p":"D","src":"ARTEMIS","t":2011.59,"v":21},{"p":"D","src":"ARTEMIS","t":2011.68,"v":37},{"p":"D","src":"ARTEMIS","t":2011.83,"v":30},{"p":"D","src":"ARTEMIS","t":2011.92,"v":40},{"p":"D","src":"ARTEMIS","t":2012.07,"v":34},{"p":"D","src":"ARTEMIS","t":2012.21,"v":21},{"p":"D","src":"ARTEMIS","t":2012.35,"v":8},{"p":"D","src":"ARTEMIS","t":2012.45,"v":42},{"p":"D","src":"ARTEMIS","t":2012.59,"v":21},{"p":"D","src":"ARTEMIS","t":2012.73,"v":11},{"p":"D","src":"ARTEMIS","t":2012.88,"v":36},{"p":"D","src":"ARTEMIS","t":2013.02,"v":13},{"p":"D","src":"ARTEMIS","t":2013.21,"v":29},{"p":"D","src":"ARTEMIS","t":2013.4,"v":-17},{"p":"D","src":"ARTEMIS","t":2013.55,"v":0},{"p":"D","src":"ARTEMIS","t":2013.74,"v":-6},{"p":"D","src":"ARTEMIS","t":2013.88,"v":-8},{"p":"D","src":"ARTEMIS","t":2013.98,"v":-19},{"p":"D","src":"ARTEMIS","t":2014.12,"v":16},{"p":"D","src":"ARTEMIS","t":2014.31,"v":32},{"p":"D","src":"ARTEMIS","t":2014.41,"v":19},{"p":"D","src":"ARTEMIS","t":2014.55,"v":30},{"p":"D","src":"ARTEMIS","t":2014.69,"v":21},{"p":"D","src":"ARTEMIS","t":2014.83,"v":-3},{"p":"D","src":"ARTEMIS","t":2014.98,"v":8},{"p":"D","src":"ARTEMIS","t":2015.12,"v":32},{"p":"D","src":"ARTEMIS","t":2015.27,"v":47},{"p":"D","src":"ARTEMIS","t":2015.36,"v":24},{"p":"D","src":"ARTEMIS","t":2015.46,"v":21},{"p":"D","src":"ARTEMIS","t":2015.6,"v":19},{"p":"D","src":"ARTEMIS","t":2015.79,"v":5},{"p":"D","src":"ARTEMIS","t":2016.08,"v":15},{"p":"D","src":"ARTEMIS","t":2016.22,"v":4},{"p":"D","src":"ARTEMIS","t":2016.46,"v":7},{"p":"D","src":"ARTEMIS","t":2016.65,"v":5},{"p":"D","src":"ARTEMIS","t":2016.84,"v":2},{"p":"D","src":"ARTEMIS","t":2017.03,"v":7},{"p":"D","src":"ARTEMIS","t":2017.22,"v":1},{"p":"D","src":"ARTEMIS","t":2017.41,"v":4},{"p":"D","src":"ARTEMIS","t":2017.6,"v":0},{"p":"D","src":"ARTEMIS","t":2017.8,"v":1},{"p":"D","src":"ARTEMIS","t":2017.99,"v":7},{"p":"D","src":"ARTEMIS","t":2018.18,"v":5},{"p":"D","src":"ARTEMIS","t":2018.45,"v":4},{"p":"D","src":"ARTEMIS","t":2018.6,"v":2},{"p":"D","src":"ARTEMIS","t":2018.9,"v":2},
{"p":"D","src":"K corona","t":1996.0,"v":0,"g":1},{"p":"D","src":"K corona","t":1997.0,"v":1,"g":1},{"p":"D","src":"K corona","t":1997.8,"v":2,"g":1},{"p":"D","src":"K corona","t":1998.0,"v":1,"g":1},{"p":"D","src":"K corona","t":1998.5,"v":1,"g":1},
{"p":"D","src":"K corona","t":1998.69,"v":0},{"p":"D","src":"K corona","t":1998.74,"v":4},{"p":"D","src":"K corona","t":1998.88,"v":5},{"p":"D","src":"K corona","t":1999.12,"v":7},{"p":"D","src":"K corona","t":1999.27,"v":11},{"p":"D","src":"K corona","t":1999.46,"v":21},{"p":"D","src":"K corona","t":1999.6,"v":7},{"p":"D","src":"K corona","t":1999.7,"v":27},{"p":"D","src":"K corona","t":1999.84,"v":32},{"p":"D","src":"K corona","t":1999.98,"v":40},{"p":"D","src":"K corona","t":2000.13,"v":35},{"p":"D","src":"K corona","t":2000.27,"v":21},{"p":"D","src":"K corona","t":2000.41,"v":16},{"p":"D","src":"K corona","t":2000.51,"v":0},{"p":"D","src":"K corona","t":2000.6,"v":-25},{"p":"D","src":"K corona","t":2000.75,"v":-17},{"p":"D","src":"K corona","t":2000.89,"v":-27},{"p":"D","src":"K corona","t":2001.03,"v":-40},{"p":"D","src":"K corona","t":2001.13,"v":-14},{"p":"D","src":"K corona","t":2001.27,"v":15},{"p":"D","src":"K corona","t":2001.37,"v":-11},{"p":"D","src":"K corona","t":2001.51,"v":-17},{"p":"D","src":"K corona","t":2001.85,"v":-48},{"p":"D","src":"K corona","t":2002.04,"v":-68},{"p":"D","src":"K corona","t":2002.13,"v":-52},{"p":"D","src":"K corona","t":2002.27,"v":-17},{"p":"D","src":"K corona","t":2002.37,"v":-4},{"p":"D","src":"K corona","t":2002.47,"v":-17},{"p":"D","src":"K corona","t":2002.56,"v":-14},{"p":"D","src":"K corona","t":2002.66,"v":-42},{"p":"D","src":"K corona","t":2002.8,"v":-25},{"p":"D","src":"K corona","t":2002.94,"v":-17},{"p":"D","src":"K corona","t":2003.13,"v":-18},{"p":"D","src":"K corona","t":2003.37,"v":0},{"p":"D","src":"K corona","t":2003.56,"v":-2},{"p":"D","src":"K corona","t":2003.75,"v":-4},{"p":"D","src":"K corona","t":2003.94,"v":-2},{"p":"D","src":"K corona","t":2004.09,"v":1},{"p":"D","src":"K corona","t":2004.37,"v":-7},{"p":"D","src":"K corona","t":2004.57,"v":-2},{"p":"D","src":"K corona","t":2004.76,"v":0},{"p":"D","src":"K corona","t":2005.43,"v":-3},{"p":"D","src":"K corona","t":2005.71,"v":-1},{"p":"D","src":"K corona","t":2006.5,"v":0},{"p":"D","src":"K corona","t":2007.0,"v":1},{"p":"D","src":"K corona","t":2008.0,"v":0},{"p":"D","src":"K corona","t":2010.0,"v":2},{"p":"D","src":"K corona","t":2011.11,"v":5},{"p":"D","src":"K corona","t":2011.4,"v":11},{"p":"D","src":"K corona","t":2011.68,"v":13},{"p":"D","src":"K corona","t":2011.95,"v":19},{"p":"D","src":"K corona","t":2012.07,"v":24},{"p":"D","src":"K corona","t":2012.26,"v":20},{"p":"D","src":"K corona","t":2012.45,"v":35},{"p":"D","src":"K corona","t":2012.59,"v":16},{"p":"D","src":"K corona","t":2012.78,"v":21},{"p":"D","src":"K corona","t":2012.93,"v":19},{"p":"D","src":"K corona","t":2013.12,"v":13},{"p":"D","src":"K corona","t":2013.38,"v":-23},{"p":"D","src":"K corona","t":2013.5,"v":-8},{"p":"D","src":"K corona","t":2013.64,"v":-3},{"p":"D","src":"K corona","t":2013.78,"v":-14},{"p":"D","src":"K corona","t":2013.93,"v":-30},{"p":"D","src":"K corona","t":2014.02,"v":-14},{"p":"D","src":"K corona","t":2014.17,"v":4},{"p":"D","src":"K corona","t":2014.36,"v":13},{"p":"D","src":"K corona","t":2014.55,"v":8},{"p":"D","src":"K corona","t":2014.69,"v":-14},{"p":"D","src":"K corona","t":2014.83,"v":-8},{"p":"D","src":"K corona","t":2014.98,"v":9},{"p":"D","src":"K corona","t":2015.12,"v":16},{"p":"D","src":"K corona","t":2015.36,"v":21},{"p":"D","src":"K corona","t":2015.69,"v":8},{"p":"D","src":"K corona","t":2015.93,"v":4},{"p":"D","src":"K corona","t":2016.17,"v":1},{"p":"D","src":"K corona","t":2016.46,"v":-3},{"p":"D","src":"K corona","t":2016.75,"v":-1},{"p":"D","src":"K corona","t":2017.03,"v":0},{"p":"D","src":"K corona","t":2017.6,"v":-2},{"p":"D","src":"K corona","t":2017.99,"v":0},{"p":"D","src":"K corona","t":2018.9,"v":0}
]},
"vconcat":[
 {"vconcat":[
  {"width":836,"height":247,
   "layer":[
    {"data":{"values":[{}]},"mark":{"type":"rule","color":"black","strokeDash":[2,4],"strokeWidth":1},
     "encoding":{"x":{"datum":1996,"type":"quantitative","axis":{"orient":"bottom","values":[1996,1997,1998,1999,2000,2001,2002,2003,2004,2005,2006,2007,2008,2009,2010,2011,2012,2013,2014,2015,2016,2017,2018,2019],"tickSize":-6,"labels":false,"title":null}},
      "x2":{"datum":2019},
      "y":{"datum":0,"type":"quantitative","axis":{"orient":"right","values":[-120,-100,-80,-60,-40,-20,0,20,40,60,80,100,120],"tickSize":-16,"labels":false,"title":null}}}},
    {"data":{"name":"cme"},"transform":[{"filter":"datum.p != 'D' && datum.src != 'K corona'"}],
     "mark":{"type":"line","interpolate":"step-after","strokeWidth":1.2},
     "encoding":{"x":{"field":"t","type":"quantitative","scale":{"domain":[1995.5,2019.5],"nice":false,"zero":false},"axis":{"orient":"top","values":[1996,1997,1998,1999,2000,2001,2002,2003,2004,2005,2006,2007,2008,2009,2010,2011,2012,2013,2014,2015,2016,2017,2018,2019],"tickSize":-6,"labels":false,"title":null}},
      "y":{"field":"v","type":"quantitative","scale":{"domain":[-120,120],"nice":false},"axis":{"orient":"left","values":[-120,-100,-80,-60,-40,-20,0,20,40,60,80,100,120],"labelExpr":"abs(datum.value)","labelOffset":{"condition":{"test":"datum.value == 0","value":-5},"value":0},"tickSize":-16,"labelPadding":23,"labelFlush":true,"title":"Monthly\u00a0\u00a0HL\u00a0\u00a0CME\u00a0\u00a0Rate","titlePadding":13}},
      "color":{"field":"src","type":"nominal","scale":{"domain":["ARTEMIS","SEEDS","CDAW"],"range":["#ff0000","#0000ff","#6fa8dc"]},"legend":{"orient":"none","legendX":366,"legendY":11,"title":null}},
      "detail":[{"field":"p"},{"field":"g"}]}},
    {"data":{"name":"cme"},"transform":[{"filter":"datum.p != 'D' && datum.src == 'K corona'"}],
     "mark":{"type":"line","interpolate":"step-after","strokeWidth":1.2},
     "encoding":{"x":{"field":"t","type":"quantitative","axis":{"orient":"top","values":{"expr":"sequence(1995.5,2019.51,1/12)"},"tickSize":-3,"labels":false,"title":null}},
      "y":{"field":"v","type":"quantitative","axis":{"orient":"left","tickCount":120,"tickSize":-8,"labels":false,"title":null}},
      "color":{"field":"src","type":"nominal","scale":{"domain":["K corona"],"range":["#000000"]},"legend":{"orient":"none","legendX":366,"legendY":186,"title":null,"labelExpr":"'K\u00a0\u00a0corona'"}},
      "detail":[{"field":"p"},{"field":"g"}]}},
    {"data":{"values":[{}]},"mark":{"type":"point","opacity":0},
     "encoding":{"x":{"datum":1996,"type":"quantitative","axis":{"orient":"bottom","values":{"expr":"sequence(1995.5,2019.51,1/12)"},"tickSize":-3,"labels":false,"title":null}},
      "y":{"datum":0,"type":"quantitative","axis":{"orient":"right","tickCount":120,"tickSize":-8,"labels":false,"title":null}}}}
   ],
   "resolve":{"scale":{"color":"independent"},"legend":{"color":"independent"},"axis":{"x":"independent","y":"independent"}}},
  {"width":836,"height":35,"data":{"name":"years"},
   "encoding":{"x":{"field":"label","type":"ordinal","sort":null,"scale":{"paddingInner":0,"paddingOuter":0.5},"axis":null}},
   "layer":[{"mark":{"type":"rect","fill":"white","stroke":"black","strokeWidth":1.5}},{"mark":{"type":"text","fontSize":17,"color":"black"},"encoding":{"text":{"field":"label"}}}]}
 ],"spacing":0,"bounds":"flush","resolve":{"scale":{"color":"independent"},"legend":{"color":"independent"}}},
 {"vconcat":[
  {"width":836,"height":246,
   "layer":[
    {"data":{"values":[{}]},"mark":{"type":"rule","color":"black","strokeDash":[2,4],"strokeWidth":1},
     "encoding":{"x":{"datum":1996,"type":"quantitative","axis":{"orient":"bottom","values":[1996,1997,1998,1999,2000,2001,2002,2003,2004,2005,2006,2007,2008,2009,2010,2011,2012,2013,2014,2015,2016,2017,2018,2019],"tickSize":-6,"labels":false,"title":null}},
      "x2":{"datum":2019},
      "y":{"datum":0,"type":"quantitative","axis":{"orient":"right","values":[-100,-80,-60,-40,-20,0,20,40,60,80,100],"tickSize":-16,"labels":false,"title":null}}}},
    {"data":{"name":"cme"},"transform":[{"filter":"datum.p == 'D' && datum.src != 'K corona'"}],
     "mark":{"type":"line","interpolate":"step-after","strokeWidth":1.2},
     "encoding":{"x":{"field":"t","type":"quantitative","scale":{"domain":[1995.5,2019.5],"nice":false,"zero":false},"axis":{"orient":"top","values":[1996,1997,1998,1999,2000,2001,2002,2003,2004,2005,2006,2007,2008,2009,2010,2011,2012,2013,2014,2015,2016,2017,2018,2019],"tickSize":-6,"labels":false,"title":null}},
      "y":{"field":"v","type":"quantitative","scale":{"domain":[-100,100],"nice":false},"axis":{"orient":"left","values":[-100,-80,-60,-40,-20,0,20,40,60,80,100],"labelExpr":"abs(datum.value)","labelOffset":{"condition":{"test":"datum.value == 0","value":-5},"value":0},"tickSize":-16,"labelPadding":23,"labelFlush":true,"title":"\u0394\u00a0\u00a0Monthly\u00a0\u00a0HL\u00a0\u00a0CME\u00a0\u00a0Rate","titlePadding":13}},
      "color":{"field":"src","type":"nominal","scale":{"domain":["ARTEMIS","SEEDS","CDAW"],"range":["#ff0000","#0000ff","#6fa8dc"]},"legend":{"orient":"none","legendX":366,"legendY":12,"title":null,"labelExpr":"datum.label == 'CDAW' ? 'CDAW\u00a0\u00a0x\u00a0\u00a02' : datum.label"}},
      "detail":[{"field":"p"},{"field":"g"}]}},
    {"data":{"name":"cme"},"transform":[{"filter":"datum.p == 'D' && datum.src == 'K corona'"}],
     "mark":{"type":"line","interpolate":"step-after","strokeWidth":1.2},
     "encoding":{"x":{"field":"t","type":"quantitative","axis":{"orient":"top","values":{"expr":"sequence(1995.5,2019.51,1/12)"},"tickSize":-3,"labels":false,"title":null}},
      "y":{"field":"v","type":"quantitative","axis":{"orient":"left","tickCount":100,"tickSize":-8,"labels":false,"title":null}},
      "color":{"field":"src","type":"nominal","scale":{"domain":["K corona"],"range":["#000000"]},"legend":{"orient":"none","legendX":366,"legendY":185,"title":null,"labelExpr":"'K\u00a0\u00a0corona'"}},
      "detail":[{"field":"p"},{"field":"g"}]}},
    {"data":{"values":[{}]},"mark":{"type":"point","opacity":0},
     "encoding":{"x":{"datum":1996,"type":"quantitative","axis":{"orient":"bottom","values":{"expr":"sequence(1995.5,2019.51,1/12)"},"tickSize":-3,"labels":false,"title":null}},
      "y":{"datum":0,"type":"quantitative","axis":{"orient":"right","tickCount":100,"tickSize":-8,"labels":false,"title":null}}}}
   ],
   "resolve":{"scale":{"color":"independent"},"legend":{"color":"independent"},"axis":{"x":"independent","y":"independent"}}},
  {"width":836,"height":36,"data":{"name":"years"},
   "encoding":{"x":{"field":"label","type":"ordinal","sort":null,"scale":{"paddingInner":0,"paddingOuter":0.5},"axis":{"orient":"bottom","title":"Year","labels":false,"ticks":false,"titlePadding":7,"titleFontSize":17}}},
   "layer":[{"mark":{"type":"rect","fill":"white","stroke":"black","strokeWidth":1.5}},{"mark":{"type":"text","fontSize":17,"color":"black"},"encoding":{"text":{"field":"label"}}}]}
 ],"spacing":0,"bounds":"flush","resolve":{"scale":{"color":"independent"},"legend":{"color":"independent"}}}
],
"spacing":13,
"resolve":{"scale":{"color":"independent"},"legend":{"color":"independent"}}
}
